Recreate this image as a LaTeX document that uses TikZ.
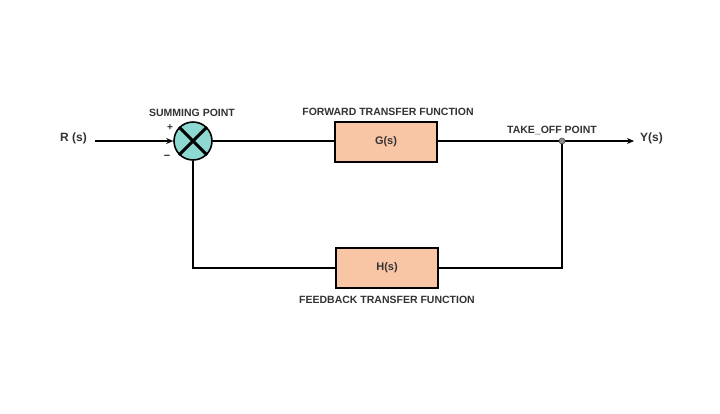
\documentclass[tikz,border=0pt]{standalone}
\usepackage{fontspec}
\setmainfont{Liberation Sans}
\usetikzlibrary{arrows.meta}
\definecolor{sumfill}{HTML}{8ED8D2}
\definecolor{boxfill}{HTML}{F8C6A4}
\definecolor{txt}{HTML}{333333}
\begin{document}
\begin{tikzpicture}[x=1pt,y=-1pt,
  lbl/.style={font=\bfseries\fontsize{10.5}{12}\selectfont, text=txt, inner sep=0pt},
  io/.style={font=\bfseries\fontsize{12}{14}\selectfont, text=txt, inner sep=0pt},
  blk/.style={draw=black, line width=1.6pt, fill=boxfill, minimum width=102pt, minimum height=40pt, inner sep=0pt, font=\bfseries\fontsize{11}{12}\selectfont, text=txt},
  wire/.style={line width=1.8pt, black},
  arr/.style={wire, -{Stealth[length=7pt,width=6pt]}}]
\useasboundingbox[fill=white] (0,0) rectangle (720,413);
% summing point
\node[circle, draw=black, line width=1.6pt, fill=sumfill, minimum size=38pt, inner sep=0pt] (sum) at (193,141) {};
\draw[line width=3pt, black] (sum.45) -- (sum.225) (sum.135) -- (sum.315);
\node[lbl] (sumlbl) at (192,113) {SUMMING POINT};
\node[lbl, font=\bfseries\fontsize{10}{12}\selectfont] (plus) at (170,128) {+};
\node[lbl, font=\bfseries\fontsize{11}{12}\selectfont] (minus) at (167,157) {\textminus};
% input
\node[io, anchor=east] (R) at (87,138) {R (s)};
\coordinate (rin) at (95,141);
\draw[arr] (rin) -- (sum.west);
% forward block
\node[blk] (G) at (386,142) {G(s)};
\node[lbl] (glbl) at (388,112) {FORWARD TRANSFER FUNCTION};
\draw[wire] (sum.east) -- (G.west |- sum.east);
% take-off
\coordinate (tk) at (562,141);
\coordinate (yend) at (634,141);
\draw[wire] (G.east |- tk) -- (tk);
\draw[arr] (tk) -- (yend);
\node[io, anchor=west] (Y) at (640,138) {Y(s)};
\node[lbl] (tlbl) at (552,130) {TAKE\_OFF POINT};
% feedback block
\node[blk] (H) at (387,268) {H(s)};
\node[lbl] (hlbl) at (387,300) {FEEDBACK TRANSFER FUNCTION};
\draw[wire] (tk) |- (H.east);
\draw[wire] (H.west) -| (sum.south);
\node[circle, draw=black!70, fill=black!45, line width=0.6pt, minimum size=6pt, inner sep=0pt] (tkdot) at (tk) {};
\end{tikzpicture}
\end{document}
